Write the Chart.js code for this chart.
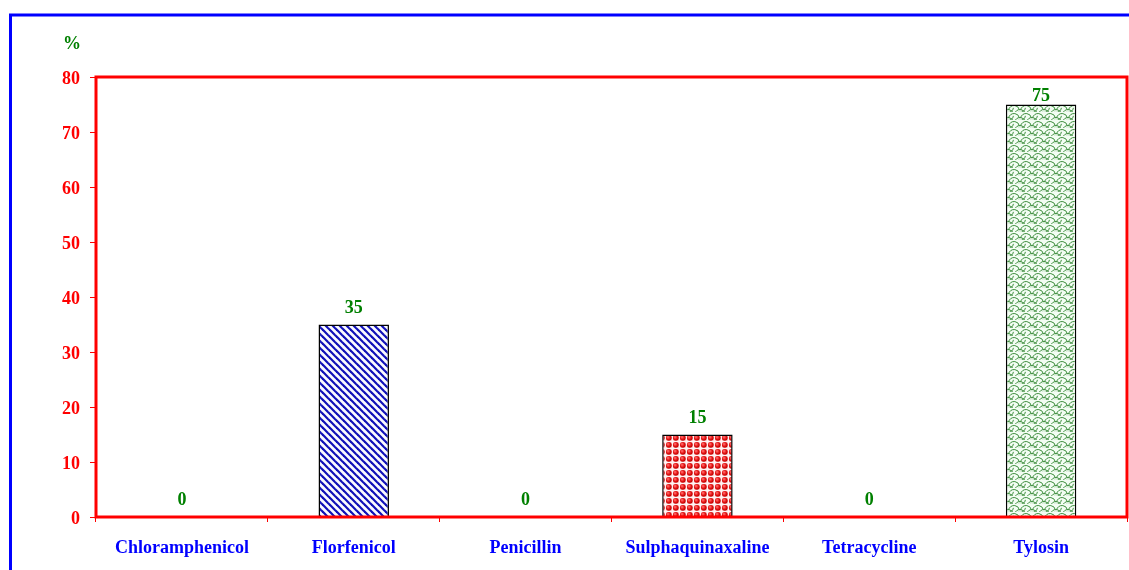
<!DOCTYPE html>
<html>
<head>
<meta charset="utf-8">
<script src="https://cdn.jsdelivr.net/npm/chart.js@4.4.0/dist/chart.umd.min.js"></script>
<style>
  html, body { margin: 0; padding: 0; background: #fff; }
  #wrap { width: 1129px; height: 570px; position: relative; }
</style>
</head>
<body>
<div id="wrap"><canvas id="c" width="1129" height="570"></canvas></div>
<script>
// Share (%) of isolates per antibiotic
const categories = ['Chloramphenicol', 'Florfenicol', 'Penicillin', 'Sulphaquinaxaline', 'Tetracycline', 'Tylosin'];
const percentValues = [0, 35, 0, 15, 0, 75];
const yTicks = [0, 10, 20, 30, 40, 50, 60, 70, 80];

const FONT = '"Liberation Serif", "Times New Roman", serif';

function makeTile(w, h, paint) {
  const cv = document.createElement('canvas');
  cv.width = w; cv.height = h;
  const g = cv.getContext('2d');
  paint(g, w, h);
  return cv;
}

// Blue diagonal stripes
const stripeTile = makeTile(7, 7, (g, w, h) => {
  g.fillStyle = '#fbfbff';
  g.fillRect(0, 0, w, h);
  g.strokeStyle = '#1010b8';
  g.lineWidth = 2.2;
  for (const off of [-7, 0, 7]) {
    g.beginPath();
    g.moveTo(off - 1, -1);
    g.lineTo(off + 8, 8);
    g.stroke();
  }
});

// Red dots
const dotTile = makeTile(7, 7, (g, w, h) => {
  g.fillStyle = '#ffd6d6';
  g.fillRect(0, 0, w, h);
  g.fillStyle = '#fff4f4';
  g.fillRect(0, 0, 7, 1);
  g.fillRect(0, 0, 1, 7);
  const grad = g.createRadialGradient(3, 3, 0.5, 3.5, 3.5, 3.2);
  grad.addColorStop(0, '#ff6060');
  grad.addColorStop(0.6, '#e01010');
  grad.addColorStop(1, '#b80000');
  g.fillStyle = grad;
  g.beginPath();
  g.arc(3.8, 3.8, 2.9, 0, Math.PI * 2);
  g.fill();
});

// Green scales
const scaleTile = makeTile(12, 8, (g, w, h) => {
  g.fillStyle = '#f3fdf3';
  g.fillRect(0, 0, w, h);
  g.strokeStyle = '#3f8f3f';
  g.lineWidth = 1;
  g.beginPath();
  g.arc(6, 7, 5.5, Math.PI * 1.05, Math.PI * 1.95);
  g.stroke();
  for (const cx of [0, 12]) {
    g.beginPath();
    g.arc(cx, 11, 5.5, Math.PI * 1.05, Math.PI * 1.95);
    g.stroke();
    g.beginPath();
    g.arc(cx, 3, 5.5, Math.PI * 0.05, Math.PI * 0.6);
    g.stroke();
  }
});

const ctx = document.getElementById('c').getContext('2d');
const fills = [
  '#ffffff',
  ctx.createPattern(stripeTile, 'repeat'),
  '#ffffff',
  ctx.createPattern(dotTile, 'repeat'),
  '#ffffff',
  ctx.createPattern(scaleTile, 'repeat')
];

// Blue frame, red plot border, % title, value labels
const decorations = {
  id: 'decorations',
  beforeDraw(chart) {
    const g = chart.ctx;
    g.save();
    g.fillStyle = '#ffffff';
    g.fillRect(0, 0, chart.width, chart.height);
    g.strokeStyle = '#0000ff';
    g.lineWidth = 3;
    g.beginPath();
    g.moveTo(10.5, chart.height);
    g.lineTo(10.5, 15);
    g.lineTo(chart.width, 15);
    g.stroke();
    g.restore();
  },
  afterDatasetsDraw(chart) {
    const g = chart.ctx;
    const a = chart.chartArea;
    g.save();
    g.strokeStyle = '#ff0000';
    g.lineWidth = 3;
    g.strokeRect(a.left, a.top, a.right - a.left, a.bottom - a.top);

    g.fillStyle = '#008000';
    g.font = 'bold 18px ' + FONT;
    g.textAlign = 'center';
    g.textBaseline = 'alphabetic';
    g.fillText('%', 72, 49);

    const meta = chart.getDatasetMeta(0);
    meta.data.forEach((bar, i) => {
      let base = bar.y - 12;
      base = Math.max(base, a.top + 24);
      g.fillText(String(percentValues[i]), bar.x, base);
    });
    g.restore();
  }
};

new Chart(ctx, {
  type: 'bar',
  data: {
    labels: categories,
    datasets: [{
      data: percentValues,
      backgroundColor: fills,
      borderColor: '#000000',
      borderWidth: 1.5,
      borderSkipped: 'bottom',
      barPercentage: 0.41,
      categoryPercentage: 1.0
    }]
  },
  options: {
    responsive: false,
    animation: false,
    devicePixelRatio: 1,
    layout: { padding: { left: 0, top: 77, right: 2, bottom: 0 } },
    plugins: { legend: { display: false }, tooltip: { enabled: false } },
    scales: {
      x: {
        offset: true,
        border: { display: false },
        grid: {
          offset: true,
          drawOnChartArea: false,
          drawTicks: true,
          tickLength: 5,
          color: '#ff0000',
          lineWidth: 1
        },
        ticks: {
          color: '#0000ff',
          font: { family: FONT, size: 18, weight: 'bold' },
          padding: 16,
          maxRotation: 0,
          autoSkip: false
        },
        afterFit(scale) { scale.height = 53; }
      },
      y: {
        min: 0,
        max: 80,
        border: { display: false },
        grid: {
          drawOnChartArea: false,
          drawTicks: true,
          tickLength: 6,
          color: '#ff0000',
          lineWidth: 1
        },
        afterBuildTicks(scale) { scale.ticks = yTicks.map(v => ({ value: v })); },
        ticks: {
          color: '#ff0000',
          font: { family: FONT, size: 18, weight: 'bold' },
          padding: 10,
          labelOffset: 2
        },
        afterFit(scale) { scale.width = 96; }
      }
    }
  },
  plugins: [decorations]
});
</script>
</body>
</html>
